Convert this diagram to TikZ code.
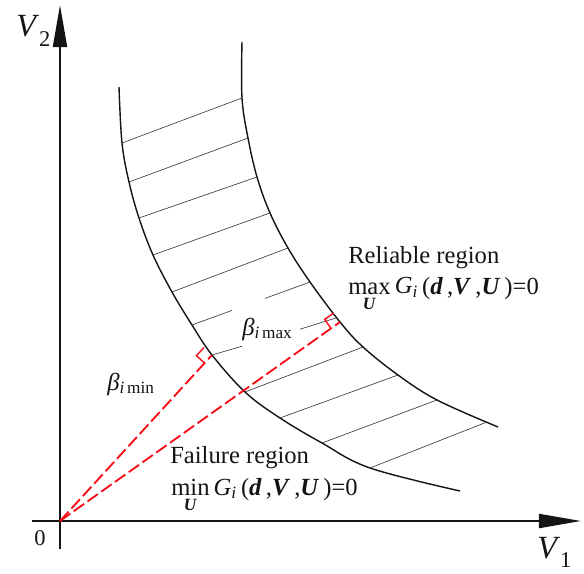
\documentclass[tikz,border=0pt]{standalone}
\usepackage{amsmath}
\usepackage{fontspec}
\setmainfont{Liberation Serif}
\usetikzlibrary{arrows.meta,calc}
\definecolor{rayred}{RGB}{250,10,20}
\definecolor{ink}{RGB}{20,20,20}
\tikzset{
  >={Triangle[length=30pt,width=10pt]},
  axis/.style={->,line width=1.4pt,draw=ink},
  bound/.style={line width=1pt,draw=ink},
  hatch/.style={line width=0.45pt,draw=ink!85},
  ray/.style={draw=rayred,line width=1.3pt,dash pattern=on 9pt off 3pt},
  sqmark/.style={draw=rayred,line width=1pt},
  lbl/.style={font=\fontsize{17.5}{21}\selectfont,inner sep=0pt,text=ink},
  axlbl/.style={font=\fontsize{23}{23}\selectfont,inner sep=0pt,text=ink},
}
\newcommand{\bv}[1]{\textbf{\textit{#1}}}
\newcommand{\axsub}[1]{\raisebox{-7pt}{\fontsize{16}{16}\selectfont #1}}

\begin{document}
\begin{tikzpicture}[x=0.025cm,y=0.025cm]
  \useasboundingbox (0,0) rectangle (584,573);
  \coordinate (O) at (60,52);
  \coordinate (fmin) at (212,218);
  \coordinate (fmax) at (340,251);

  % axes
  \draw[axis] (60,24) -- (60,568);
  \draw[axis] (32,52) -- (581,52);
  \node[axlbl,anchor=base west] (v2) at (16,536) {\textit{V}\axsub{2}};
  \node[axlbl,anchor=base west] (v1) at (537,15) {\textit{V}\axsub{1}};
  \node[axlbl,anchor=base west,font=\fontsize{16}{16}\selectfont] (zero) at (34,28) {0};

  % boundaries of the band
  \draw[bound] plot[smooth,tension=0.6] coordinates {(119,486) (122,430) (129,391) (139,355)
    (153,318) (172,281) (192,248) (212,218) (245,181) (280,155) (322,130) (370,105) (460,82)};
  \draw[bound] plot[smooth,tension=0.6] coordinates {(242,531) (242,475) (248,435) (257,396)
    (270,360) (288,325) (310,291) (340,251) (363,226) (398,198) (437,173) (498,146)};

  % hatching
  \foreach \xa/\ya/\xb/\yb in {122/430/242/475, 129/391/248/435, 139/355/257/396,
      153/318/270/360, 172/281/288/325, 192/248/232/262.6, 265/274.6/310/291,
      212/218/242/226.8, 300/243.8/336/255, 245/181/363/226, 280/155/398/198,
      322/130/437/173, 370/105/487/151}
    \draw[hatch] (\xa,\ya) -- (\xb,\yb);

  % reliability index rays
  \draw[ray] (O) -- (fmin);
  \draw[ray] (O) -- (fmax);
  \begin{scope}[shift={(fmin)},rotate=47.5]
    \draw[sqmark] (-11,0) -- (-11,11) -- (0,11);
  \end{scope}
  \begin{scope}[shift={(fmax)},rotate=35.4]
    \draw[sqmark] (-11,0) -- (-11,11) -- (0,11);
  \end{scope}

  % labels
  \node[lbl,anchor=base west] (bmin) at (107,183) {\textit{β}\textsubscript{\textit{i}\,min}};
  \node[lbl,anchor=base west] (bmax) at (242,238) {\textit{β}\textsubscript{\textit{i}\,max}};
  \node[lbl,anchor=base west] (rel) at (348,309) {Reliable region};
  \node[lbl,anchor=base west] (relG) at (348,279)
    {$\mathop{\text{max}}\limits_{\text{\bv{U}}}$\,\textit{G}\textsubscript{\textit{i}}\,(\bv{d}\,,\bv{V}\,,\bv{U}\,)=0};
  \node[lbl,anchor=base west] (fail) at (170,110) {Failure region};
  \node[lbl,anchor=base west] (failG) at (171,78)
    {$\mathop{\text{min}}\limits_{\text{\bv{U}}}$\,\textit{G}\textsubscript{\textit{i}}\,(\bv{d}\,,\bv{V}\,,\bv{U}\,)=0};
\end{tikzpicture}
\end{document}
